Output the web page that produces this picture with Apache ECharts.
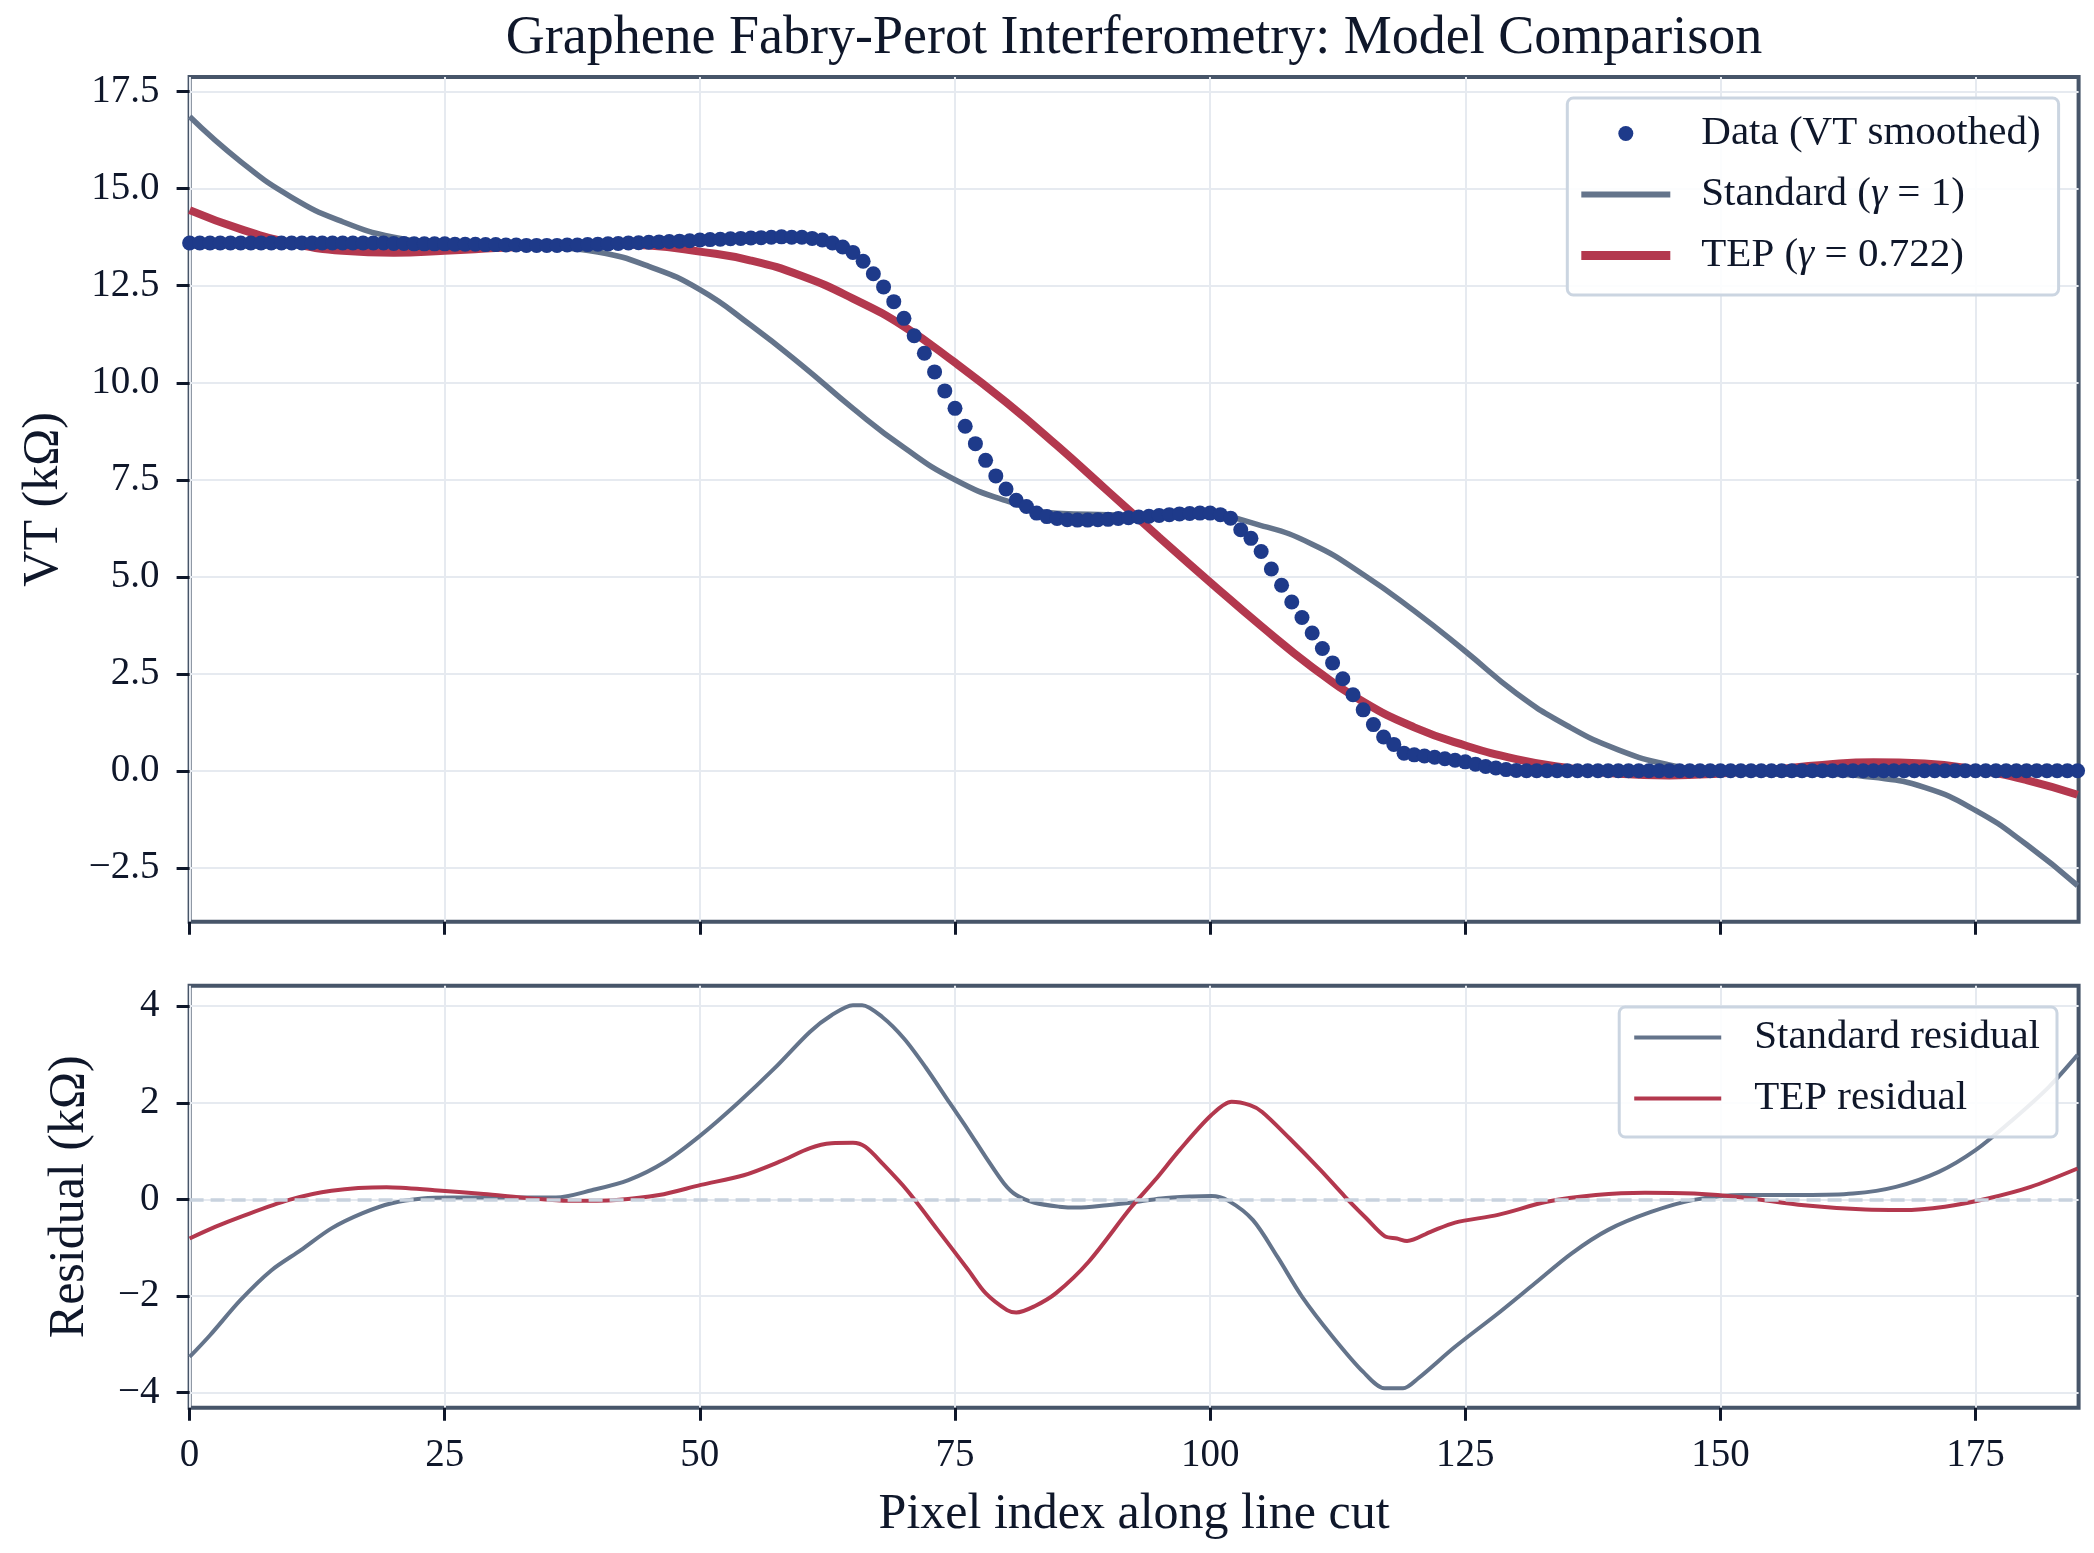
<!DOCTYPE html>
<html lang="en">
<head>
<meta charset="UTF-8">
<title>Graphene Fabry-Perot Interferometry: Model Comparison</title>
<script src="https://cdn.jsdelivr.net/npm/echarts@6.0.0/dist/echarts.min.js"></script>
<style>
  html, body { margin: 0; padding: 0; background: #ffffff; }
  #chart { width: 2094px; height: 1553px; }
</style>
</head>
<body>
<div id="chart"></div>
<script>
  // tick positions
  const xTicks = [0, 25, 50, 75, 100, 125, 150, 175];
  const vtTicks = [-2.5, 0, 2.5, 5, 7.5, 10, 12.5, 15, 17.5];
  const resTicks = [-4, -2, 0, 2, 4];

  // smoothed VT line cut, one value per pixel (pixel 0 .. 185), kOhm
  const vtData = [
    13.60, 13.60, 13.60, 13.60, 13.60, 13.60, 13.60, 13.60, 13.60, 13.60,
    13.60, 13.60, 13.60, 13.60, 13.60, 13.60, 13.60, 13.60, 13.60, 13.60,
    13.59, 13.59, 13.58, 13.58, 13.58, 13.58, 13.57, 13.57, 13.57, 13.56,
    13.56, 13.55, 13.55, 13.54, 13.54, 13.54, 13.54, 13.55, 13.55, 13.56,
    13.57, 13.58, 13.59, 13.60, 13.61, 13.62, 13.63, 13.64, 13.65, 13.66,
    13.68, 13.69, 13.70, 13.71, 13.72, 13.73, 13.74, 13.75, 13.76, 13.75,
    13.75, 13.72, 13.68, 13.60, 13.50, 13.36, 13.13, 12.81, 12.47, 12.09,
    11.66, 11.21, 10.76, 10.28, 9.79, 9.34, 8.88, 8.43, 8.00, 7.60,
    7.26, 6.97, 6.81, 6.64, 6.55, 6.50, 6.47, 6.46, 6.46, 6.47,
    6.48, 6.50, 6.52, 6.54, 6.56, 6.58, 6.60, 6.62, 6.63, 6.64,
    6.64, 6.60, 6.51, 6.21, 5.99, 5.65, 5.20, 4.78, 4.35, 3.95,
    3.55, 3.15, 2.78, 2.37, 1.96, 1.57, 1.19, 0.87, 0.68, 0.45,
    0.41, 0.38, 0.35, 0.31, 0.27, 0.23, 0.17, 0.11, 0.07, 0.03,
    0.01, 0.00, 0.00, 0.00, 0.00, 0.00, 0.00, 0.00, 0.00, 0.00,
    0.00, 0.00, 0.00, 0.00, 0.00, 0.00, 0.00, 0.00, 0.00, 0.00,
    0.00, 0.00, 0.00, 0.00, 0.00, 0.00, 0.00, 0.00, 0.00, 0.00,
    0.00, 0.00, 0.00, 0.00, 0.00, 0.00, 0.00, 0.00, 0.00, 0.00,
    0.00, 0.00, 0.00, 0.00, 0.00, 0.00, 0.00, 0.00, 0.00, 0.00,
    0.00, 0.00, 0.00, 0.00, 0.00, 0.00
  ];

  // model curves, sampled every 5 pixels
  const modelX = [
    0, 5, 10, 15, 20, 25, 30, 35, 40, 45, 50, 55, 60, 65, 70, 75, 80, 85, 90,
    95, 100, 105, 110, 115, 120, 125, 130, 135, 140, 145, 150, 155, 160, 165,
    170, 175, 180, 185
  ];
  const standardModel = [
    16.86, 15.70, 14.78, 14.15, 13.75, 13.58, 13.52, 13.49, 13.37, 13.00,
    12.40, 11.48, 10.45, 9.34, 8.33, 7.50, 6.96, 6.64, 6.60, 6.58,
    6.57, 6.32, 5.84, 5.06, 4.12, 3.08, 2.00, 1.16, 0.54, 0.15,
    -0.04, -0.09, -0.09, -0.17, -0.43, -1.02, -1.90, -2.96
  ];
  const tepModel = [
    14.45, 13.96, 13.60, 13.40, 13.35, 13.40, 13.47, 13.54, 13.58, 13.54,
    13.38, 13.15, 12.75, 12.17, 11.45, 10.52, 9.50, 8.38, 7.20, 6.02,
    4.86, 3.73, 2.67, 1.78, 1.12, 0.65, 0.30, 0.07, -0.08, -0.12,
    -0.07, 0.03, 0.15, 0.22, 0.19, 0.03, -0.24, -0.62
  ];

  // residuals (data - model), [pixel, kOhm]
  const standardResidual = [
    [0, -3.26], [2, -2.81], [5, -2.08], [8, -1.47], [10.9, -1.05], [13.9, -0.60],
    [16.9, -0.29], [19.8, -0.08], [22.8, 0.02], [25.8, 0.04], [31.7, 0.04],
    [35.9, 0.04], [39.4, 0.19], [43, 0.40], [46.6, 0.78], [50.1, 1.33],
    [53.7, 1.99], [57.3, 2.71], [60.8, 3.47], [62.9, 3.81], [65, 4.02],
    [65.9, 4.02], [67.9, 3.77], [70, 3.33], [72.1, 2.74], [74.5, 1.99],
    [76.3, 1.43], [78, 0.88], [79.8, 0.33], [81, 0.09], [82.8, -0.07],
    [85.2, -0.15], [87, -0.17], [89.9, -0.12], [92.2, -0.07], [95.2, 0.02],
    [98.2, 0.06], [100.1, 0.07], [101.8, -0.03], [104.2, -0.43], [106.6, -1.19],
    [109, -2.01], [112, -2.84], [115, -3.57], [117.1, -3.91], [118.9, -3.91],
    [120.4, -3.70], [124, -3.05], [128.2, -2.36], [131.8, -1.74], [135.4, -1.12],
    [139, -0.63], [143.2, -0.26], [147.4, -0.01], [152.2, 0.09], [158.2, 0.09],
    [163, 0.12], [167.2, 0.26], [171.4, 0.57], [175, 1.02], [178.6, 1.64],
    [182.2, 2.33], [185, 2.99]
  ];
  const tepResidual = [
    [0, -0.81], [2.5, -0.57], [5, -0.36], [9.75, -0.01], [13.9, 0.18], [19.3, 0.25],
    [24, 0.19], [28.8, 0.11], [33.5, 0.02], [37.1, -0.03], [41.8, -0.01],
    [46, 0.09], [50.1, 0.30], [54.3, 0.50], [57.8, 0.78], [60.8, 1.06],
    [62.9, 1.16], [65, 1.17], [66.2, 1.09], [67.9, 0.74], [70.3, 0.19],
    [73.3, -0.63], [76.3, -1.46], [78, -1.94], [80.1, -2.29], [81, -2.34],
    [82.8, -2.21], [84.9, -1.94], [88.1, -1.29], [92.2, -0.18], [94.6, 0.40],
    [97, 1.02], [100.1, 1.74], [102.1, 2.02], [103.9, 1.95], [105.1, 1.81],
    [107.8, 1.26], [110.8, 0.61], [113.2, 0.06], [115.3, -0.39], [117.1, -0.76],
    [118.3, -0.81], [119.3, -0.86], [121.6, -0.67], [124, -0.48], [128.2, -0.32],
    [133, -0.05], [137.8, 0.09], [142.6, 0.14], [147.4, 0.12], [152.2, 0.04],
    [158.2, -0.12], [164.2, -0.21], [167.8, -0.22], [172, -0.15], [176.2, 0.02],
    [180.4, 0.26], [185, 0.64]
  ];

  const SERIF = "'Liberation Serif', 'Times New Roman', 'DejaVu Serif', serif";
  const INK = '#0f172a';
  const SPINE = '#475569';
  const GRID = '#e6eaf0';
  const BLUE = '#1e3a8a';
  const SLATE = '#64748b';
  const CRIMSON = '#b3384e';

  // matplotlib style minus sign
  function minus(s) {
    return s.replace('-', '\u2212');
  }

  function xAxisFor(gridIndex, withLabels) {
    return {
      type: 'value',
      gridIndex: gridIndex,
      min: 0,
      max: 185.1,
      axisLine: { show: false, onZero: false },
      axisTick: { show: true, length: 13, customValues: xTicks, lineStyle: { color: INK, width: 3 } },
      axisLabel: {
        show: withLabels, customValues: xTicks, margin: 29,
        color: INK, fontSize: 39, fontFamily: SERIF
      },
      splitLine: { show: true, lineStyle: { color: GRID, width: 2 } },
      name: withLabels ? 'Pixel index along line cut' : '',
      nameLocation: 'middle',
      nameGap: 82,
      nameMoveOverlap: false,
      nameTextStyle: { fontFamily: SERIF, fontSize: 50, color: INK }
    };
  }

  function yAxisFor(gridIndex, name, min, max, ticks, fmt, gap) {
    return {
      type: 'value',
      gridIndex: gridIndex,
      min: min,
      max: max,
      axisLine: { show: false, onZero: false },
      axisTick: { show: true, length: 13, customValues: ticks, lineStyle: { color: INK, width: 3 } },
      axisLabel: {
        customValues: ticks, margin: 30, formatter: fmt,
        color: INK, fontSize: 39, fontFamily: SERIF
      },
      splitLine: { show: true, lineStyle: { color: GRID, width: 2 } },
      name: name,
      nameLocation: 'middle',
      nameGap: gap,
      nameMoveOverlap: false,
      nameTextStyle: { fontFamily: SERIF, fontSize: 50, color: INK }
    };
  }

  const legendText = {
    fontFamily: SERIF, fontSize: 41, color: INK, lineHeight: 41,
    rich: { it: { fontFamily: SERIF, fontSize: 41, fontStyle: 'italic', color: INK, lineHeight: 41 } }
  };

  // legend keys: flat bars standing in for the line samples
  function barIcon(w, h) {
    return 'path://M0 0H' + w + 'V' + h + 'H0Z';
  }

  const chart = echarts.init(document.getElementById('chart'));

  const option = {
    animation: false,
    backgroundColor: '#ffffff',
    title: {
      text: 'Graphene Fabry-Perot Interferometry: Model Comparison',
      left: 1134,
      top: 12,
      padding: 0,
      textAlign: 'center',
      textVerticalAlign: 'top',
      textStyle: { fontFamily: SERIF, fontSize: 54, fontWeight: 'normal', color: INK }
    },
    grid: [
      { left: 189.6, top: 77, width: 1889, height: 844.7, show: true,
        borderColor: SPINE, borderWidth: 4, backgroundColor: 'transparent' },
      { left: 189.6, top: 985.8, width: 1889, height: 421.9, show: true,
        borderColor: SPINE, borderWidth: 4, backgroundColor: 'transparent' }
    ],
    xAxis: [xAxisFor(0, false), xAxisFor(1, true)],
    yAxis: [
      yAxisFor(0, 'VT (k\u03A9)', -3.89, 17.88, vtTicks, v => minus(v.toFixed(1)), 121),
      yAxisFor(1, 'Residual (k\u03A9)', -4.31, 4.42, resTicks, v => minus(String(v)), 95)
    ],
    legend: [
      {
        data: [
          { name: 'Data (VT smoothed)', icon: 'circle' },
          { name: 'Standard (\u03B3 = 1)', icon: barIcon(89, 6), itemStyle: { borderWidth: 0 } },
          { name: 'TEP (\u03B3 = 0.722)', icon: barIcon(89, 9), itemStyle: { borderWidth: 0 } }
        ],
        orient: 'vertical',
        right: 35.4,
        top: 98,
        padding: [15, 18, 19, 14],
        itemWidth: 89,
        itemHeight: 15,
        itemGap: 20,
        selectedMode: false,
        backgroundColor: 'rgba(255,255,255,0.88)',
        borderColor: '#cbd5e1',
        borderWidth: 3,
        borderRadius: 6,
        formatter: name => name.replace('\u03B3', '{it|\u03B3}'),
        textStyle: Object.assign({ padding: [0, 0, 0, 26] }, legendText)
      },
      {
        data: [
          { name: 'Standard residual', icon: barIcon(87, 4), itemStyle: { borderWidth: 0 } },
          { name: 'TEP residual', icon: barIcon(87, 4), itemStyle: { borderWidth: 0 } }
        ],
        orient: 'vertical',
        right: 37,
        top: 1007,
        padding: [10, 17, 18, 15],
        itemWidth: 87,
        itemHeight: 15,
        itemGap: 20,
        selectedMode: false,
        backgroundColor: 'rgba(255,255,255,0.88)',
        borderColor: '#cbd5e1',
        borderWidth: 3,
        borderRadius: 6,
        textStyle: Object.assign({ padding: [0, 0, 0, 28] }, legendText)
      }
    ],
    series: [
      {
        name: 'Standard (\u03B3 = 1)',
        type: 'line',
        xAxisIndex: 0, yAxisIndex: 0,
        data: modelX.map((x, i) => [x, standardModel[i]]),
        smooth: true,
        symbol: 'none',
        lineStyle: { color: SLATE, width: 5.5 },
        itemStyle: { color: SLATE },
        z: 2
      },
      {
        name: 'TEP (\u03B3 = 0.722)',
        type: 'line',
        xAxisIndex: 0, yAxisIndex: 0,
        data: modelX.map((x, i) => [x, tepModel[i]]),
        smooth: true,
        symbol: 'none',
        lineStyle: { color: CRIMSON, width: 8 },
        itemStyle: { color: CRIMSON },
        z: 2
      },
      {
        name: 'Data (VT smoothed)',
        type: 'scatter',
        xAxisIndex: 0, yAxisIndex: 0,
        data: vtData.map((v, i) => [i, v]),
        symbol: 'circle',
        symbolSize: 15,
        itemStyle: { color: BLUE, opacity: 1 },
        z: 3
      },
      {
        name: 'Standard residual',
        type: 'line',
        xAxisIndex: 1, yAxisIndex: 1,
        data: standardResidual,
        smooth: 0.3,
        symbol: 'none',
        lineStyle: { color: SLATE, width: 4 },
        itemStyle: { color: SLATE }
      },
      {
        name: 'TEP residual',
        type: 'line',
        xAxisIndex: 1, yAxisIndex: 1,
        data: tepResidual,
        smooth: 0.3,
        symbol: 'none',
        lineStyle: { color: CRIMSON, width: 4 },
        itemStyle: { color: CRIMSON },
        markLine: {
          silent: true,
          symbol: ['none', 'none'],
          label: { show: false },
          lineStyle: { color: '#c8d2de', width: 3.5, type: [14, 7] },
          data: [{ yAxis: 0 }]
        }
      }
    ]
  };

  chart.setOption(option);
</script>
</body>
</html>
